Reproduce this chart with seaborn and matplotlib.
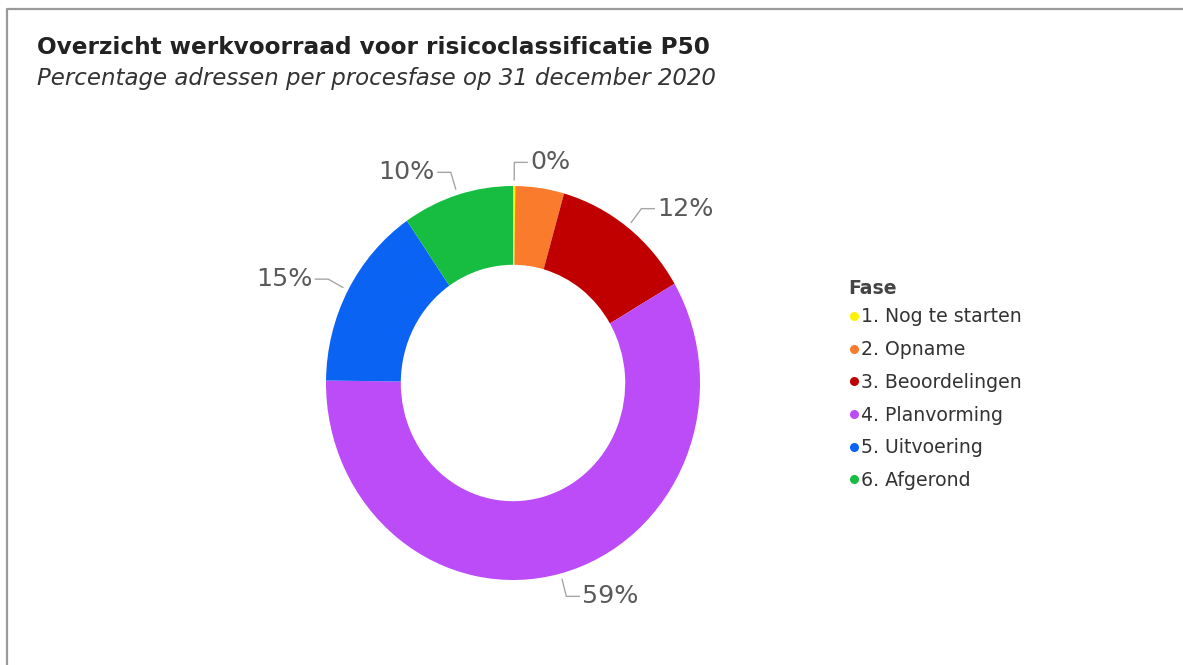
import matplotlib
matplotlib.use("Agg")
import matplotlib.pyplot as plt
from matplotlib.lines import Line2D
import seaborn as sns
import numpy as np

# data
fases = ['1. Nog te starten', '2. Opname', '3. Beoordelingen',
         '4. Planvorming', '5. Uitvoering', '6. Afgerond']
percentages = [0.2, 4.2, 12.2, 58.6, 15.2, 9.6]
show_label = [True, False, True, True, True, True]
kleuren = ['#FFF200', '#F97B2B', '#C00000', '#BB4CF7', '#0B63F4', '#17BD40']

sns.set_theme(style="white")
plt.rcParams['font.family'] = ['DejaVu Sans']

W, H = 1183, 665
fig = plt.figure(figsize=(W / 100, H / 100), dpi=100)

# donut geometry (pixels): centre, horizontal / vertical radius
cx, cy, rx, ry = 513, 383, 187, 197
lim = 1.3
ax = fig.add_axes([(cx - lim * rx) / W, (H - cy - lim * ry) / H,
                   2 * lim * rx / W, 2 * lim * ry / H])

palette = sns.color_palette(kleuren)
wedges, _ = ax.pie(percentages, colors=palette, startangle=90, counterclock=False,
                   wedgeprops=dict(width=0.4, linewidth=0))
ax.set_aspect('auto')
ax.set_xlim(-lim, lim)
ax.set_ylim(-lim, lim)
ax.axis('off')

# percentage labels with elbow leader lines
totaal = sum(percentages)
cum = np.cumsum(percentages) - np.array(percentages) / 2
for frac, pct, toon in zip(cum / totaal, percentages, show_label):
    if not toon:
        continue
    theta = 2 * np.pi * frac
    sx, sy = np.sin(theta), np.cos(theta)
    r0, r1 = 1.03, 1.12
    kant = 1 if sx >= 0 else -1
    ex, ey = r1 * sx, r1 * sy
    hx = ex + kant * 0.07
    ax.plot([r0 * sx, ex, hx], [r0 * sy, ey, ey], color='#a6a6a6', lw=1, clip_on=False)
    ax.text(hx + kant * 0.015, ey, f"{round(pct)}%", ha='left' if kant > 0 else 'right',
            va='center', fontsize=18.3, color='#5a5a5a')

# legend (title drawn separately so its gap can be set)
handles = [Line2D([0], [0], marker='o', linestyle='', markersize=6.5,
                  markerfacecolor=c, markeredgewidth=0) for c in palette]
leg = ax.legend(handles, fases, loc='upper left',
                bbox_to_anchor=(840 / W, 1 - 298 / H), bbox_transform=fig.transFigure,
                frameon=False, fontsize=13.6, borderpad=0, handlelength=0.45,
                handletextpad=0.15, labelspacing=0.725)
for t in leg.get_texts():
    t.set_color('#333333')
fig.text(848 / W, 1 - 289 / H, 'Fase', fontsize=13.6, fontweight='bold',
         color='#444444', va='center', ha='left')

# titles
fig.text(37 / W, 1 - 47 / H, 'Overzicht werkvoorraad voor risicoclassificatie P50',
         fontsize=16.7, fontweight='bold', color='#222222', va='center', ha='left')
fig.text(37 / W, 1 - 78 / H, 'Percentage adressen per procesfase op 31 december 2020',
         fontsize=16.5, fontstyle='italic', color='#333333', va='center', ha='left')

# outer frame (only top and left edges are visible)
fig.add_artist(Line2D([7 / W, 7 / W, 1.0], [0.0, 1 - 9 / H, 1 - 9 / H],
                      transform=fig.transFigure, color='#9a9a9a', lw=1.6))

fig.savefig('out.png', dpi=100)
